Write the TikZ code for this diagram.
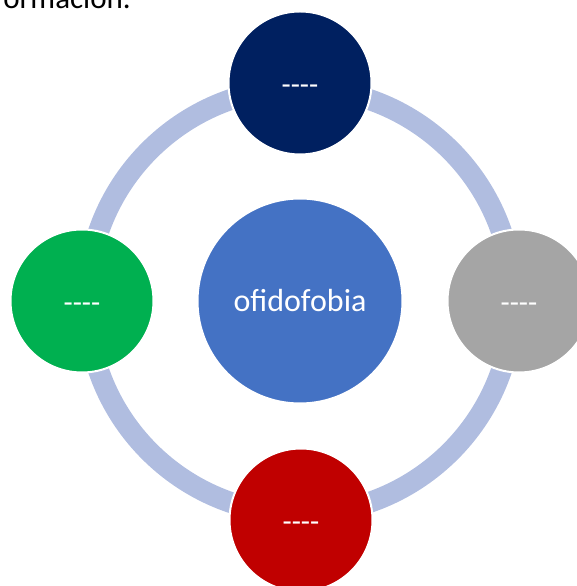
\documentclass[tikz,border=0pt]{standalone}
\usepackage{fontspec}
\setmainfont{Carlito}[Ligatures=TeXOff]
\definecolor{navy}{HTML}{002060}
\definecolor{silver}{HTML}{A5A5A5}
\definecolor{crimson}{HTML}{C00000}
\definecolor{leaf}{HTML}{00B050}
\definecolor{hubblue}{HTML}{4472C4}
\definecolor{ringblue}{HTML}{B0BDE0}
\tikzset{h/.style = {circle, fill=hubblue, draw=white, line width=2pt, minimum size=205pt, inner sep=0pt, text=white, font=\fontsize{32}{38}\selectfont},
    o/.style = {circle, draw=white, line width=2pt, minimum size=143pt, inner sep=0pt, text=white, text height=24pt, text depth=0pt, font=\fontsize{30}{36}\selectfont},
    r/.style = {line width=21pt, draw=ringblue}}

\begin{document}
\begin{tikzpicture}[x=1pt, y=1pt]
    \useasboundingbox (0,0) rectangle (576,586);
    \node[anchor=base east, inner sep=0pt, font=\fontsize{31}{37}\selectfont] (info) at (131,577.5) {información.};

    \coordinate (o) at (300,285);
    \draw[r] (o) circle[radius=213];
    \node[h] (hub) at (o) {ofidofobia};
    \foreach \n/\x/\y/\c in {top/300/503/navy, right/519/285/silver, bottom/301/66/crimson, left/82/285/leaf}
        \node[o, fill=\c] (\n) at (\x,\y) {----};
\end{tikzpicture}
\end{document}
